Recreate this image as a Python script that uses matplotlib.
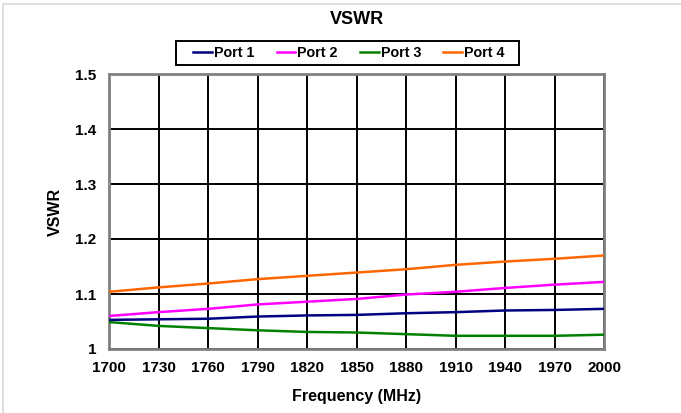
import matplotlib
matplotlib.use("Agg")
import matplotlib.pyplot as plt
from matplotlib.patches import Rectangle

plt.rcParams["font.family"] = ["Liberation Sans", "DejaVu Sans"]
plt.rcParams["font.weight"] = "bold"

freq = [1700, 1730, 1760, 1790, 1820, 1850, 1880, 1910, 1940, 1970, 2000]
port1 = [1.053, 1.054, 1.055, 1.059, 1.061, 1.062, 1.065, 1.067, 1.070, 1.071, 1.073]
port2 = [1.060, 1.067, 1.073, 1.081, 1.086, 1.091, 1.099, 1.104, 1.111, 1.117, 1.122]
port3 = [1.049, 1.042, 1.038, 1.034, 1.031, 1.030, 1.027, 1.024, 1.024, 1.024, 1.026]
port4 = [1.104, 1.112, 1.119, 1.127, 1.133, 1.139, 1.145, 1.153, 1.159, 1.164, 1.170]

series = {"Port 1": port1, "Port 2": port2, "Port 3": port3, "Port 4": port4}
colors = ["#000080", "#FF00FF", "#008000", "#FF6600"]

fig = plt.figure(figsize=(6.81, 4.13), dpi=100)
ax = fig.add_axes([109 / 681, 1 - 349 / 413, 495 / 681, 275 / 413])

# light outer frame like the spreadsheet chart area
fig.patches.append(Rectangle((3 / 681, -0.1), 1.2, 1 - 4 / 413 + 0.1, transform=fig.transFigure,
                             fill=False, edgecolor="#D9D9D9", linewidth=1.2))

for (name, vals), c in zip(series.items(), colors):
    ax.plot(freq, vals, color=c, linewidth=1.8, label=name, zorder=3)

ax.set_xlim(1700, 2000)
ax.set_ylim(1, 1.5)
ax.set_xticks(freq)
ax.set_yticks([1, 1.1, 1.2, 1.3, 1.4, 1.5])
ax.set_yticklabels(["1", "1.1", "1.2", "1.3", "1.4", "1.5"])
ax.grid(True, color="black", linewidth=1.4)
ax.set_axisbelow(True)
ax.tick_params(length=0, labelsize=11)
ax.tick_params(axis="x", pad=9)
ax.tick_params(axis="y", pad=9)
for s in ax.spines.values():
    s.set_color("#808080")
    s.set_linewidth(2)

ax.set_xlabel("Frequency (MHz)", fontsize=11.5, fontweight="bold")
ax.xaxis.set_label_coords(0.5, -0.145)
ax.set_ylabel("VSWR", fontsize=11.5, fontweight="bold", va="center")
ax.yaxis.set_label_coords(-0.109, 0.5)
fig.text(357 / 681, 1 - 20 / 413, "VSWR", ha="center", va="center", fontsize=13, fontweight="bold")

leg = fig.legend(loc="center", bbox_to_anchor=(349 / 681, 1 - 53 / 413), ncol=4, frameon=False,
                 handlelength=1.3, handletextpad=0.15, columnspacing=1.55,
                 borderpad=0.3, prop={"weight": "bold", "size": 10.3})
# legend box is wider than the entries, as in the original
fig.patches.append(Rectangle((176 / 681, 1 - 65 / 413), 343 / 681, 24 / 413, transform=fig.transFigure,
                             fill=False, edgecolor="black", linewidth=1.4))

fig.savefig("out.png", dpi=100)
